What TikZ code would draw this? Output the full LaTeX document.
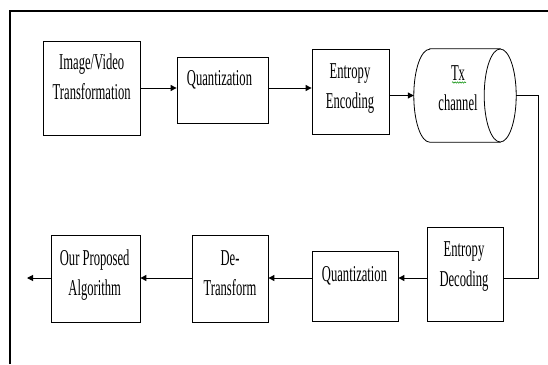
\documentclass[tikz,border=0pt]{standalone}
\usepackage{fontspec}
\setmainfont{Liberation Serif}
\usetikzlibrary{arrows.meta,decorations.pathmorphing}
% tall, narrow lettering: first row sits on the node's base anchor
\newcommand{\tallrows}[1]{\scalebox{1}[1.8]{\begin{tabular}[t]{@{}c@{}}#1\end{tabular}}}
\tikzset{
  blk/.style={draw, fill=white, line width=0.8pt, inner sep=0pt},
  txt/.style={inner sep=0pt, anchor=base, font=\fontsize{12.6}{16.7}\selectfont},
  conn/.style={line width=1pt, -{Triangle[length=6pt,width=6pt]}},
  wire/.style={line width=1pt},
}
\begin{document}
\begin{tikzpicture}[x=1pt,y=-1pt]
\useasboundingbox (0,0) rectangle (548,364);
\fill[white] (0,0) rectangle (548,364);
% outer frame
\draw[line width=2.6pt] (10,364) -- (10,11) -- (548,11);

% encoder row
\node[blk, minimum width=97pt, minimum height=94pt] (img) at (91.5,88) {};
\node[blk, minimum width=91pt, minimum height=66pt] (q1) at (222.5,90) {};
\node[blk, minimum width=77pt, minimum height=85pt] (enc) at (350.5,91.5) {};
\node[minimum width=102pt, minimum height=93pt, inner sep=0pt] (cyl) at (465,95.5) {};
% transmission channel drawn as a lying cylinder
\draw[line width=0.8pt, fill=white]
  ([xshift=16pt]cyl.north west) -- ([xshift=-16pt]cyl.north east)
  -- ([xshift=-16pt]cyl.south east) -- ([xshift=16pt]cyl.south west)
  arc[start angle=270, end angle=90, x radius=16pt, y radius=46.5pt] -- cycle;
\draw[line width=0.8pt, fill=white] ([xshift=-16pt]cyl.east) ellipse[x radius=16pt, y radius=46.5pt];

\node[txt] (timg) at (91.7,69) {\tallrows{Image/Video\\Transformation}};
\node[txt] (tq1) at (219.5,85) {\tallrows{Quantization}};
\node[txt] (tenc) at (350,78.3) {\tallrows{Entropy\\Encoding}};
\node[txt] (tcyl) at (458,80) {\tallrows{Tx\\channel}};
\draw[green!55!black, line width=0.5pt, decorate,
      decoration={snake, amplitude=0.7pt, segment length=2.4pt}]
  (452,82.5) -- (466,82.5);

% decoder row
\node[blk, minimum width=76pt, minimum height=94pt] (dec) at (465,274) {};
\node[blk, minimum width=86pt, minimum height=70pt] (q2) at (355,286) {};
\node[blk, minimum width=76pt, minimum height=87pt] (dt) at (230,278.5) {};
\node[blk, minimum width=89pt, minimum height=87pt] (opa) at (95.5,278.5) {};

\node[txt] (tdec) at (464,256.7) {\tallrows{Entropy\\Decoding}};
\node[txt] (tq2) at (354.5,281) {\tallrows{Quantization}};
\node[txt] (tdt) at (230,265) {\tallrows{De-\\Transform}};
\node[txt] (topa) at (94.7,265) {\tallrows{Our Proposed\\Algorithm}};

% connectors
\coordinate (rowA) at (0,88);
\coordinate (rowB) at (0,95.5);
\coordinate (rowC) at (0,278);
\coordinate (bend) at (538,278);
\coordinate (out) at (27,278);

\draw[conn] (img.east |- rowA) -- (q1.west |- rowA);
\draw[conn] (q1.east |- rowA) -- (enc.west |- rowA);
\draw[conn] (enc.east |- rowB) -- (cyl.west |- rowB);
\draw[wire] (cyl.east) -| (bend) -- (dec.east |- rowC);
\draw[conn] (dec.west |- rowC) -- (q2.east |- rowC);
\draw[conn] (q2.west |- rowC) -- (dt.east |- rowC);
\draw[conn] (dt.west |- rowC) -- (opa.east |- rowC);
\draw[conn] (opa.west |- rowC) -- (out);
\end{tikzpicture}
\end{document}
